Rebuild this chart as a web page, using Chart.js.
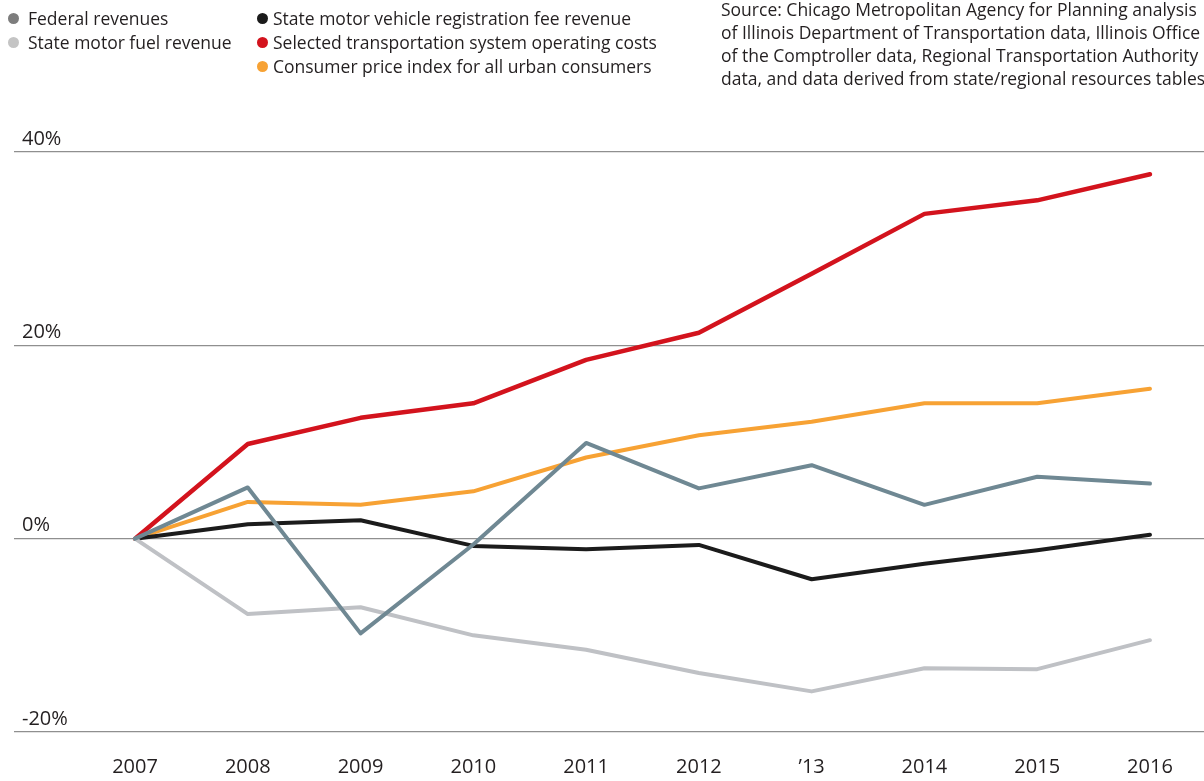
<!DOCTYPE html>
<html>
<head>
<meta charset="utf-8">
<script src="https://cdn.jsdelivr.net/npm/chart.js@4.4.1/dist/chart.umd.min.js"></script>
<style>
  html, body { margin: 0; padding: 0; background: #ffffff; }
  #wrap { position: relative; width: 1204px; height: 781px; overflow: hidden; font-family: "Open Sans", sans-serif; color: #231f20; }
  #chart { position: absolute; left: 0; top: 0; }
  .legend { position: absolute; top: 6px; font-size: 17.5px; line-height: 24px; white-space: nowrap; }
  .legend div { position: relative; padding-left: 16px; }
  #legA div { padding-left: 20px; }
  .legend span.dot { position: absolute; left: 0; top: 7px; width: 11px; height: 11px; border-radius: 50%; }
  #source { position: absolute; left: 721px; top: -2px; font-size: 17.5px; line-height: 23px; white-space: nowrap; }
</style>
</head>
<body>
<div id="wrap">
  <canvas id="chart" width="1204" height="781"></canvas>
  <div class="legend" id="legA" style="left:8px"></div>
  <div class="legend" id="legB" style="left:257px"></div>
  <div id="source"></div>
</div>
<script>
// Years and their axis labels
const years = [2007, 2008, 2009, 2010, 2011, 2012, 2013, 2014, 2015, 2016];
const yearLabels = ['2007', '2008', '2009', '2010', '2011', '2012', '\u201913', '2014', '2015', '2016'];

// Percent change since 2007
const federalRevenues = [0, 5.3, -9.8, -0.6, 9.9, 5.2, 7.6, 3.5, 6.4, 5.7];
const motorFuelRevenue = [0, -7.8, -7.1, -10.0, -11.5, -13.9, -15.8, -13.4, -13.5, -10.5];
const registrationFeeRevenue = [0, 1.5, 1.9, -0.75, -1.1, -0.65, -4.2, -2.6, -1.2, 0.4];
const operatingCosts = [0, 9.8, 12.5, 14.0, 18.5, 21.3, 27.4, 33.6, 35.0, 37.7];
const consumerPriceIndex = [0, 3.8, 3.5, 4.9, 8.4, 10.7, 12.1, 14.0, 14.0, 15.5];

// Value axis ticks
const yTicks = [-20, 0, 20, 40];

const seriesNames = [
  'Federal revenues',
  'State motor fuel revenue',
  'State motor vehicle registration fee revenue',
  'Selected transportation system operating costs',
  'Consumer price index for all urban consumers'
];
const sourceLines = [
  'Source: Chicago Metropolitan Agency for Planning analysis',
  'of Illinois Department of Transportation data, Illinois Office',
  'of the Comptroller data, Regional Transportation Authority',
  'data, and data derived from state/regional resources tables'
];

const lineColors = ['#6f8893', '#bfc1c5', '#1b1b1b', '#d3131d', '#f7a234'];
const dotColors = ['#7d7d7d', '#c4c4c4', '#1b1b1b', '#d3131d', '#f7a234'];
const seriesValues = [federalRevenues, motorFuelRevenue, registrationFeeRevenue, operatingCosts, consumerPriceIndex];

// Legend, in two columns
function legendItem(i) {
  const d = document.createElement('div');
  const s = document.createElement('span');
  s.className = 'dot';
  s.style.background = dotColors[i];
  d.appendChild(s);
  d.appendChild(document.createTextNode(seriesNames[i]));
  return d;
}
[0, 1].forEach(i => document.getElementById('legA').appendChild(legendItem(i)));
[2, 3, 4].forEach(i => document.getElementById('legB').appendChild(legendItem(i)));
document.getElementById('source').innerHTML = sourceLines.join('<br>');

const datasets = seriesValues.map((vals, i) => ({
  label: seriesNames[i],
  data: years.map((y, k) => ({ x: y, y: vals[k] })),
  borderColor: lineColors[i],
  backgroundColor: lineColors[i],
  borderWidth: i === 3 ? 4.5 : 4,
  pointRadius: 0,
  tension: 0,
  borderCapStyle: 'round',
  borderJoinStyle: 'round',
  fill: false
}));

new Chart(document.getElementById('chart'), {
  type: 'line',
  data: { datasets },
  options: {
    responsive: false,
    animation: false,
    events: [],
    layout: { padding: { left: 14, top: 152, right: 0, bottom: 0 } },
    plugins: { legend: { display: false }, tooltip: { enabled: false } },
    scales: {
      x: {
        type: 'linear',
        min: 2005.927,
        max: 2016.479,
        grid: { display: false, drawTicks: false },
        border: { display: false },
        afterBuildTicks: s => { s.ticks = years.map(v => ({ value: v })); },
        afterFit: s => { s.height = 49; },
        ticks: {
          padding: 23,
          color: '#231f20',
          font: { family: 'Open Sans', size: 20 },
          maxRotation: 0,
          autoSkip: false,
          callback: v => yearLabels[years.indexOf(v)]
        }
      },
      y: {
        min: -20,
        max: 40,
        afterBuildTicks: s => { s.ticks = yTicks.map(v => ({ value: v })); },
        afterFit: s => { s.width = 0; },
        grid: { color: '#8f8f8f', lineWidth: 1.2, drawTicks: false },
        border: { display: false },
        ticks: {
          mirror: true,
          padding: 8,
          labelOffset: -13,
          color: '#231f20',
          font: { family: 'Open Sans', size: 20 },
          callback: v => v + '%'
        }
      }
    }
  }
});
</script>
</body>
</html>
